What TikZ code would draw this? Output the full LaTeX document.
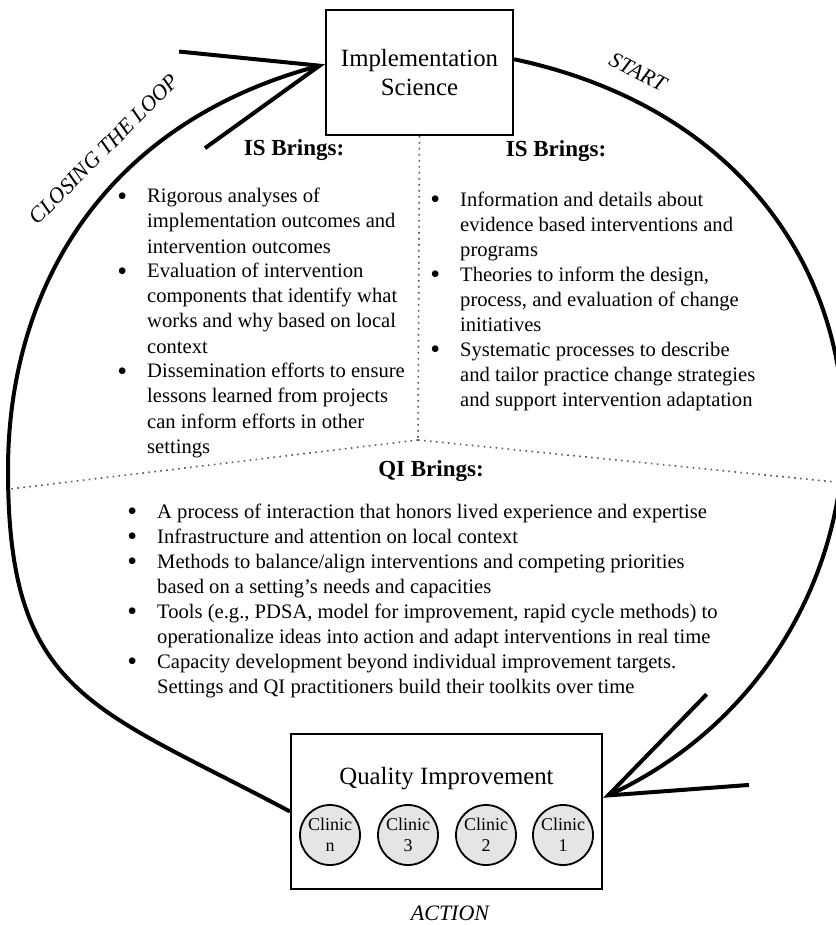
\documentclass[tikz,border=0pt]{standalone}
\usepackage{fontspec}
\setmainfont{Liberation Serif}
\usepackage{tikz}
\usetikzlibrary{arrows.meta}
\tikzset{
  loopline/.style={line width=2pt, -{Straight Barb[length=66pt,width=50pt]}},
  bigbox/.style={draw, line width=1pt, inner sep=0pt},
  clinic/.style={circle, draw, line width=0.9pt, fill=gray!20, minimum size=30pt,
    inner sep=0pt, align=center, font=\fontsize{9}{10.5}\selectfont},
  divider/.style={line width=0.8pt, gray!70!black, dash pattern=on 0.8pt off 2.2pt},
  heading/.style={font=\fontsize{11.5}{13}\selectfont\bfseries, inner sep=0pt, anchor=base},
  looplabel/.style={font=\fontsize{11}{13}\selectfont\itshape, inner sep=0pt},
  bullets/.style={font=\fontsize{10.3}{12.5}\selectfont, inner sep=0pt, anchor=base west}
}
\newcommand{\bul}{\raisebox{-1.1pt}{\fontsize{14}{12.5}\selectfont\textbullet}}

\begin{document}
\begin{tikzpicture}[x=0.5pt,y=0.5pt]
        \useasboundingbox (0,0) rectangle (835,-925);

        % Les deux boites
        \node[bigbox, minimum width=93.5pt, minimum height=62.5pt, align=center,
              font=\fontsize{12.4}{14.5}\selectfont] (is) at (419.5,-72.5) {Implementation\\Science};
        \node[bigbox, minimum width=155.5pt, minimum height=77.5pt] (qi) at (446.5,-811.5) {};
        \node[font=\fontsize{12.4}{14.5}\selectfont] (qititle) at (446.5,-779) {Quality Improvement};

        % Cliniques
        \node[clinic] (clinicn) at (330,-835) {Clinic\\n};
        \node[clinic] (clinic3) at (408,-835) {Clinic\\3};
        \node[clinic] (clinic2) at (486,-835) {Clinic\\2};
        \node[clinic] (clinic1) at (563,-835) {Clinic\\1};

        % Boucle
        \coordinate (lft) at (8,-470);
        \draw[loopline] (is.8) to[out=-12, in=25, out looseness=1.5, in looseness=1.25] (qi.5);
        \draw[loopline] (qi.west) to[out=152, in=-90, looseness=1.3] (lft)
              to[out=90, in=195, out looseness=0.9, in looseness=1.14] (is.175);
        \node[looplabel, rotate=-27] (start) at (638,-72) {START};
        \node[looplabel, rotate=45] (closing) at (104,-149) {CLOSING THE LOOP};
        \node[looplabel] (action) at (450,-913) {ACTION};

        % Separations en pointilles
        \coordinate (hub) at (418,-440);
        \coordinate (divl) at (10,-489);
        \coordinate (divr) at (835,-482);
        \draw[divider] (is.south) -- (hub);
        \draw[divider] (hub) -- (divl);
        \draw[divider] (hub) -- (divr);

        % IS Brings (gauche)
        \node[heading] (isleft) at (294,-156) {IS Brings:};
        \node[bullets] (islistleft) at (117,-203) {\begin{tabular}[t]{@{}l@{\hspace{10pt}}l@{}}
          \bul & Rigorous analyses of\\
               & implementation outcomes and\\
               & intervention outcomes\\
          \bul & Evaluation of intervention\\
               & components that identify what\\
               & works and why based on local\\
               & context\\
          \bul & Dissemination efforts to ensure\\
               & lessons learned from projects\\
               & can inform efforts in other\\
               & settings
        \end{tabular}};

        % IS Brings (droite)
        \node[heading] (isright) at (556,-157) {IS Brings:};
        \node[bullets] (islistright) at (430,-206) {\begin{tabular}[t]{@{}l@{\hspace{10pt}}l@{}}
          \bul & Information and details about\\
               & evidence based interventions and\\
               & programs\\
          \bul & Theories to inform the design,\\
               & process, and evaluation of change\\
               & initiatives\\
          \bul & Systematic processes to describe\\
               & and tailor practice change strategies\\
               & and support intervention adaptation
        \end{tabular}};

        % QI Brings
        \node[heading] (qihead) at (431,-476) {QI Brings:};
        \node[bullets] (qilist) at (127,-518) {\begin{tabular}[t]{@{}l@{\hspace{10pt}}l@{}}
          \bul & A process of interaction that honors lived experience and expertise\\
          \bul & Infrastructure and attention on local context\\
          \bul & Methods to balance/align interventions and competing priorities\\
               & based on a setting’s needs and capacities\\
          \bul & Tools (e.g., PDSA, model for improvement, rapid cycle methods) to\\
               & operationalize ideas into action and adapt interventions in real time\\
          \bul & Capacity development beyond individual improvement targets.\\
               & Settings and QI practitioners build their toolkits over time
        \end{tabular}};
\end{tikzpicture}
\end{document}
